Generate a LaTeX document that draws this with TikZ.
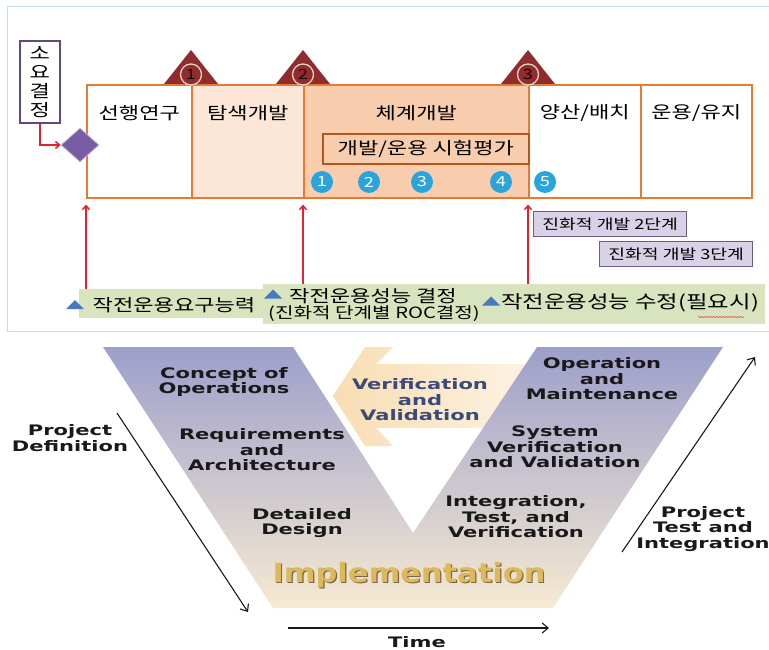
\documentclass[tikz,border=0pt]{standalone}
\usepackage{fontspec}
\newfontfamily\kfont[FakeStretch=1.3]{Noto Sans CJK KR}
\newfontfamily\vfont[FakeStretch=1.45]{DejaVu Sans}
\newfontfamily\implfont[FakeStretch=1.15]{DejaVu Sans}
\usetikzlibrary{arrows.meta,positioning,shapes.geometric,calc,decorations.pathmorphing}

\definecolor{phaseline}{HTML}{E67A33}
\definecolor{peachlight}{HTML}{FCE6D7}
\definecolor{peach}{HTML}{F8CDAE}
\definecolor{evalline}{HTML}{B4561C}
\definecolor{milestone}{HTML}{8F2D2D}
\definecolor{milering}{HTML}{E8CFC6}
\definecolor{stepblue}{HTML}{2AA5DC}
\definecolor{needline}{HTML}{5E4A7E}
\definecolor{needfill}{HTML}{7A5CA4}
\definecolor{redline}{HTML}{E3232B}
\definecolor{rocgreen}{HTML}{D7E4BD}
\definecolor{markblue}{HTML}{4A78C0}
\definecolor{spiralfill}{HTML}{D9D2E6}
\definecolor{spiralline}{HTML}{6E5B8E}
\definecolor{framebl}{HTML}{C8DBEA}
\definecolor{vtop}{HTML}{9D9FCB}
\definecolor{vmid}{HTML}{D2C6D4}
\definecolor{vbottom}{HTML}{F6EAD2}
\definecolor{vvtext}{HTML}{3B4A78}
\definecolor{vvarrow}{HTML}{F8DDB2}
\definecolor{implgold}{HTML}{DDB95C}
\definecolor{implshade}{HTML}{7A6646}

\tikzset{rocmark/.pic={\fill[markblue] (-9,4.5) -- (0,-4.5) -- (9,4.5) -- cycle;}}

\begin{document}
\begin{tikzpicture}[x=1pt,y=-1pt,
  phase/.style={draw=phaseline,line width=1.6pt,minimum width=#1,minimum height=113pt,inner sep=0pt,anchor=north west},
  kor/.style={font=\kfont\fontsize{#1}{#1}\selectfont,inner sep=0pt},
  stepdot/.style={circle,fill=stepblue,text=white,minimum size=22pt,inner sep=0pt,font=\kfont\fontsize{14}{14}\selectfont},
  msring/.style={circle,draw=milering,line width=1.3pt,minimum size=21pt,inner sep=0pt,text=black!85!red,font=\kfont\fontsize{14}{14}\selectfont},
  redarrow/.style={draw=redline,line width=1.5pt,-{Straight Barb[length=4pt,width=7pt]}},
  rocbox/.style={fill=rocgreen,inner sep=0pt,anchor=north west,minimum height=#1},
  spiral/.style={draw=spiralline,fill=spiralfill,line width=1.4pt,inner sep=0pt,anchor=north west,minimum width=153pt,minimum height=25pt,kor=14},
  vtext/.style={align=center,inner sep=0pt,text=black!90,font=\vfont\bfseries\fontsize{14.5}{15.5}\selectfont},
  impltext/.style={inner sep=0pt,font=\implfont\bfseries\fontsize{26.5}{27}\selectfont},
  blackarrow/.style={draw=black!90,line width=1.1pt,-{Straight Barb[length=6pt,width=10pt]}}
]
\useasboundingbox (0,0) rectangle (769,650);
\fill[white] (0,0) rectangle (769,650);

% acquisition phases
\draw[framebl,line width=1pt] (775,7) -- (7,7) -- (7,331) -- (775,331);
\node[phase=105,fill=white] (pre) at (86,84) {};
\node[phase=112,fill=peachlight] (explore) at (191,84) {};
\node[phase=225,fill=peach] (system) at (303,84) {};
\node[phase=112,fill=white] (produce) at (528,84) {};
\node[phase=111,fill=white] (operate) at (640,84) {};

\node[kor=17] (preT) at ($(pre.north)+(0,29)$) {선행연구};
\node[kor=17] (exploreT) at ($(explore.north)+(0,29)$) {탐색개발};
\node[kor=17] (systemT) at ($(system.north)+(0,29)$) {체계개발};
\node[kor=17] (produceT) at ($(produce.north)+(0,29)$) {양산/배치};
\node[kor=17] (operateT) at ($(operate.north)+(0,29)$) {운용/유지};

\node[draw=evalline,line width=1.6pt,minimum width=206pt,minimum height=30pt,anchor=north west,kor=17] (eval) at (322,133) {개발/운용 시험평가};

\foreach \n/\x in {1/322,2/369,3/422,4/501,5/545}
  \node[stepdot] (s\n) at (\x,182) {\n};

\foreach \n/\x in {1/191,2/303,3/528} {
  \fill[milestone] (\x-27,84) -- (\x,50) -- (\x+27,84) -- cycle;
  \node[msring] (m\n) at (\x,74.5) {\n};
}

\node[draw=needline,line width=1.8pt,fill=white,minimum width=40pt,minimum height=82pt,inner sep=0pt,align=center,anchor=north west,font=\kfont\fontsize{17}{19}\selectfont] (need) at (19,40) {소\\요\\결\\정};
\node[diamond,fill=needfill,draw=needfill!45,line width=0.8pt,minimum width=38pt,minimum height=34pt,inner sep=0pt] (dec) at (80,145) {};
\draw[redarrow] (need.south) |- (dec.west);

% ROC boxes
\node[rocbox=29pt,minimum width=186pt] (roc1) at (79,289) {};
\node[rocbox=40pt,minimum width=220pt] (roc2) at (263,284) {};
\node[rocbox=40pt,minimum width=282pt] (roc3) at (483,284) {};
\pic at (75,304.5) {rocmark};
\pic at (273,294) {rocmark};
\pic at (491,301) {rocmark};
\node[kor=17] (roc1T) at (174,305) {작전운용요구능력};
\node[kor=17] (roc2T) at (373,296) {작전운용성능 결정};
\node[kor=15.5] (roc2S) at (374,314) {(진화적 단계별 ROC결정)};
\node[kor=18] (roc3T) at (630,303) {작전운용성능 수정(필요시)};
\draw[redline!80,line width=0.6pt,decorate,decoration={snake,amplitude=0.6pt,segment length=3pt}] (698,317) -- (744,317);

\draw[redarrow,shorten >=6pt] (roc1.north -| pre.south west) -- (pre.south west);
\draw[redarrow,shorten >=6pt] (roc2.north -| system.south west) -- (system.south west);
\draw[redarrow,shorten >=6pt] (roc3.north -| produce.south west) -- (produce.south west);

\node[spiral] (evo2) at (533,211) {진화적 개발 2단계};
\node[spiral] (evo3) at (599,241) {진화적 개발 3단계};

% V model
\shade[left color=vvarrow,right color=vvarrow!35] (333,396) -- (365,347) -- (393,347) -- (376,364) -- (535,364) -- (535,428) -- (376,428) -- (393,446) -- (365,446) -- cycle;
\shade[top color=vtop,middle color=vmid,bottom color=vbottom] (103,347) -- (293,347) -- (413,533) -- (537,347) -- (723,347) -- (553,608) -- (273,608) -- cycle;

\node[vtext,text=vvtext] (vv) at (420,400) {Verification\\and\\Validation};
\node[vtext] (conops) at (224,382) {Concept of\\Operations};
\node[vtext] (reqs) at (262,450) {Requirements\\and\\Architecture};
\node[vtext] (design) at (302,523) {Detailed\\Design};
\node[vtext] (opmaint) at (602,379) {Operation\\and\\Maintenance};
\node[vtext] (sysvv) at (555,447) {System\\Verification\\and Validation};
\node[vtext] (integ) at (516,517) {Integration,\\Test, and\\Verification};

\node[impltext,text=implshade] (implShadow) at (410.2,576.2) {Implementation};
\node[impltext,text=implgold] (impl) at (409,575) {Implementation};

\node[vtext] (projdef) at (70,438) {Project\\Definition};
\node[vtext] (projtest) at (703,529) {Project\\Test and\\Integration};
\node[vtext] (time) at (417,642) {Time};

\coordinate (defStart) at (117,413);
\coordinate (defEnd) at (248,612);
\coordinate (testStart) at (622,552);
\coordinate (testEnd) at (755,357);
\coordinate (timeStart) at (288,628);
\coordinate (timeEnd) at (549,628);
\draw[blackarrow] (defStart) -- (defEnd);
\draw[blackarrow] (testStart) -- (testEnd);
\draw[blackarrow] (timeStart) -- (timeEnd);

\end{tikzpicture}
\end{document}
